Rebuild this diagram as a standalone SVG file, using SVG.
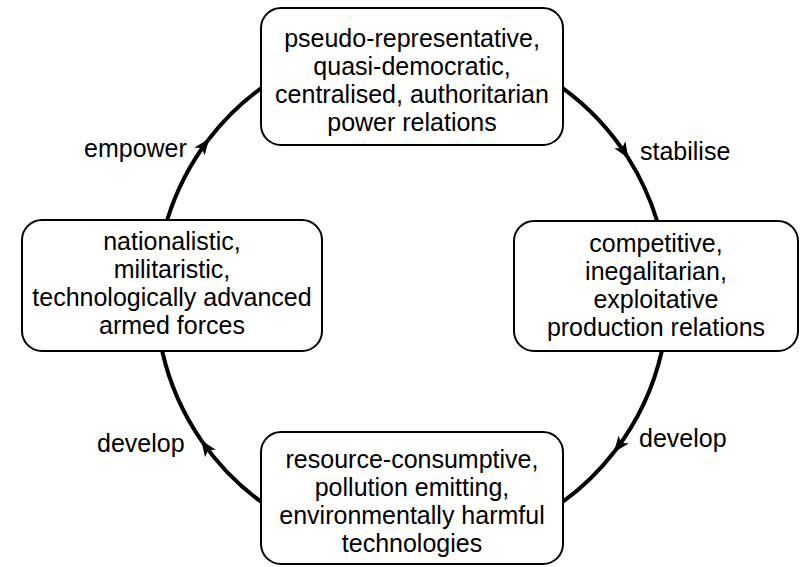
<svg xmlns="http://www.w3.org/2000/svg" width="805" height="567" viewBox="0 0 805 567">
<style>
.box{fill:#fff;stroke:#000;stroke-width:2}
.t{font-family:"Liberation Sans",Arial,sans-serif;font-size:25px;fill:#000;text-anchor:middle}
.l{font-family:"Liberation Sans",Arial,sans-serif;font-size:25px;fill:#000}
.arc{fill:none;stroke:#000;stroke-width:4}
</style>
<defs>
<marker id="ah" markerUnits="userSpaceOnUse" markerWidth="18" markerHeight="14" refX="15" refY="7" orient="auto">
<path d="M0,0.5 L16,7 L0,13.5 L4,7 z" fill="#000"/>
</marker>
</defs>
<rect width="805" height="567" fill="#fff"/>
<g id="connectors">
<path class="arc" d="M563 88.3 A256 256 0 0 1 627.9 157.5" marker-end="url(#ah)"/>
<path class="arc" d="M627.9 157.5 A256 256 0 0 1 657.1 221"/>
<path class="arc" d="M661.8 351 A256 256 0 0 1 614.5 451.5" marker-end="url(#ah)"/>
<path class="arc" d="M614.5 451.5 A256 256 0 0 1 563 501.7"/>
<path class="arc" d="M261 501.7 A256 256 0 0 1 201.8 441.1" marker-end="url(#ah)"/>
<path class="arc" d="M201.8 441.1 A256 256 0 0 1 162.2 351"/>
<path class="arc" d="M167.2 220 A256 256 0 0 1 208.6 139.5" marker-end="url(#ah)"/>
<path class="arc" d="M208.6 139.5 A256 256 0 0 1 261 88.3"/>
<text class="l" x="84" y="157">empower</text>
<text class="l" x="640" y="160">stabilise</text>
<text class="l" x="639" y="447">develop</text>
<text class="l" x="97" y="452">develop</text>
</g>
<g id="power">
<rect class="box" x="261" y="8" width="302" height="137" rx="20"/>
<text class="t" x="412" y="47">pseudo-representative,</text>
<text class="t" x="412" y="75">quasi-democratic,</text>
<text class="t" x="412" y="103">centralised, authoritarian</text>
<text class="t" x="412" y="131">power relations</text>
</g>
<g id="production">
<rect class="box" x="514" y="221" width="284" height="130" rx="20"/>
<text class="t" x="656" y="252">competitive,</text>
<text class="t" x="656" y="280">inegalitarian,</text>
<text class="t" x="656" y="308">exploitative</text>
<text class="t" x="656" y="336">production relations</text>
</g>
<g id="forces">
<rect class="box" x="22" y="220" width="300" height="131" rx="20"/>
<text class="t" x="172" y="250">nationalistic,</text>
<text class="t" x="172" y="278">militaristic,</text>
<text class="t" x="172" y="306">technologically advanced</text>
<text class="t" x="172" y="334">armed forces</text>
</g>
<g id="technologies">
<rect class="box" x="261" y="432" width="302" height="132" rx="20"/>
<text class="t" x="412" y="468">resource-consumptive,</text>
<text class="t" x="412" y="496">pollution emitting,</text>
<text class="t" x="412" y="524">environmentally harmful</text>
<text class="t" x="412" y="552">technologies</text>
</g>
</svg>
